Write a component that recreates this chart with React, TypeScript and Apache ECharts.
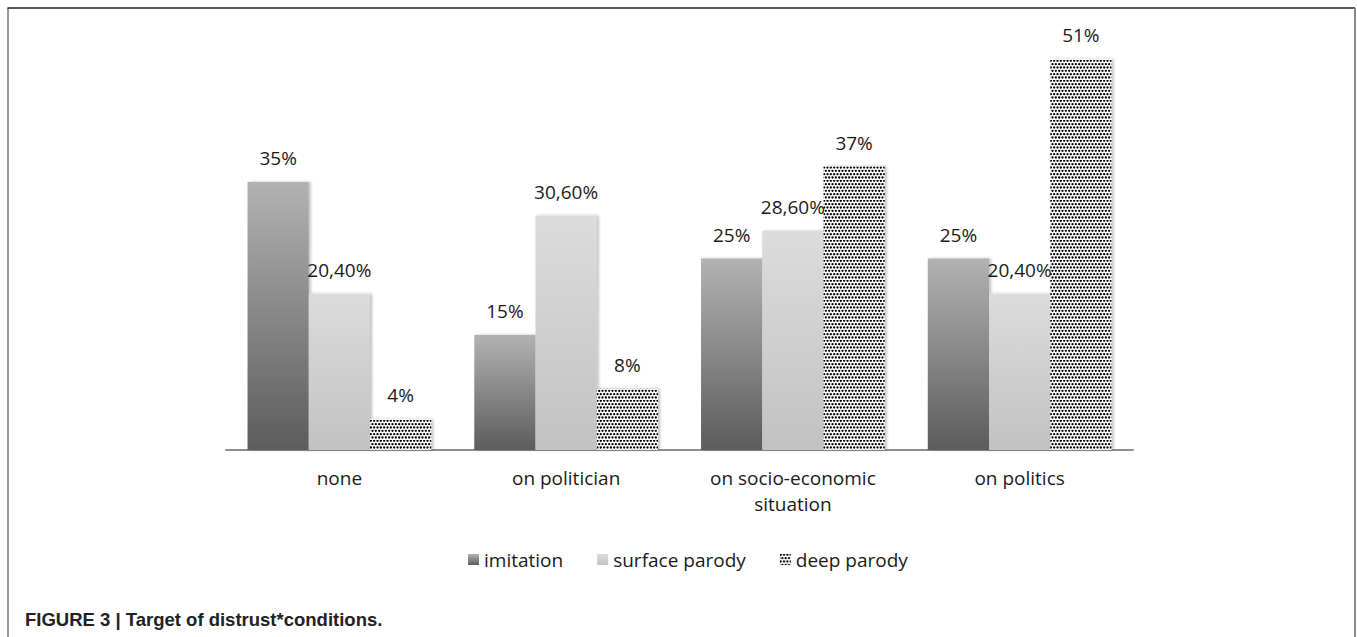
import React, { useEffect, useRef } from "react";
import * as echarts from "echarts";

const categories = ["none", "on politician", "on socio-economic\nsituation", "on politics"];
const seriesNames = ["imitation", "surface parody", "deep parody"];
const imitation = [35, 15, 25, 25];
const surfaceParody = [20.4, 30.6, 28.6, 20.4];
const deepParody = [4, 8, 37, 51];
const imitationLabels = ["35%", "15%", "25%", "25%"];
const surfaceLabels = ["20,40%", "30,60%", "28,60%", "20,40%"];
const deepLabels = ["4%", "8%", "37%", "51%"];
const caption = "FIGURE 3 | Target of distrust*conditions.";

const FONT = "'Open Sans', sans-serif";

function makeDots(): HTMLCanvasElement {
  const c = document.createElement("canvas");
  c.width = 20;
  c.height = 20;
  const ctx = c.getContext("2d")!;
  ctx.fillStyle = "#ffffff";
  ctx.fillRect(0, 0, 20, 20);
  ctx.fillStyle = "#000000";
  const step = 20 / 6;
  for (let r = 0; r < 6; r++) {
    for (let k = -1; k < 7; k++) {
      const x = k * step + (r % 2 ? step / 2 : 0) + step / 4;
      const y = r * step + step / 4;
      ctx.beginPath();
      ctx.arc(x, y, 1.15, 0, Math.PI * 2);
      ctx.fill();
    }
  }
  return c;
}

export default function App() {
  const ref = useRef<HTMLDivElement>(null);
  useEffect(() => {
    if (!ref.current) return;
    const chart = echarts.init(ref.current, null, { renderer: "svg" });
    const canvas = makeDots();
    const dotPattern: any = { image: canvas, repeat: "repeat", imageWidth: 20, imageHeight: 20 };
    const imitationColor = new echarts.graphic.LinearGradient(0, 0, 0, 1, [
      { offset: 0, color: "#b2b2b2" },
      { offset: 1, color: "#5c5c5c" },
    ]);
    const surfaceColor = new echarts.graphic.LinearGradient(0, 0, 0, 1, [
      { offset: 0, color: "#dcdcdc" },
      { offset: 1, color: "#c2c2c2" },
    ]);
    const labelStyle = (labels: string[]) => ({
      show: true,
      position: "top" as const,
      distance: 12,
      fontFamily: FONT,
      fontSize: 19,
      lineHeight: 24,
      color: "#1a1a1a",
      formatter: (p: any) => labels[p.dataIndex],
    });
    const shadow = {
      shadowBlur: 3,
      shadowColor: "rgba(0,0,0,0.25)",
      shadowOffsetX: 2,
      shadowOffsetY: 0,
    };
    chart.setOption({
      animation: false,
      backgroundColor: "#ffffff",
      grid: { left: 226, right: 224, top: 28.7, bottom: 187 },
      xAxis: {
        type: "category",
        data: categories,
        axisLine: { show: true, lineStyle: { color: "#8f8f8f", width: 2 } },
        axisTick: { show: false },
        axisLabel: {
          fontFamily: FONT,
          fontSize: 19,
          lineHeight: 26,
          color: "#1a1a1a",
          margin: 15,
          interval: 0,
        },
      },
      yAxis: {
        type: "value",
        min: 0,
        max: 55,
        show: false,
        splitLine: { show: false },
      },
      legend: {
        data: seriesNames,
        top: 545,
        left: 463,
        itemWidth: 11,
        itemHeight: 11,
        itemGap: 34,
        icon: "rect",
        textStyle: { fontFamily: FONT, fontSize: 19, color: "#1a1a1a" },
      },
      series: [
        {
          name: seriesNames[0],
          type: "bar",
          data: imitation,
          barGap: "0%",
          barCategoryGap: "19%",
          itemStyle: { color: imitationColor, ...shadow },
          label: labelStyle(imitationLabels),
        },
        {
          name: seriesNames[1],
          type: "bar",
          data: surfaceParody,
          barGap: "0%",
          barCategoryGap: "19%",
          itemStyle: { color: surfaceColor, ...shadow },
          label: labelStyle(surfaceLabels),
        },
        {
          name: seriesNames[2],
          type: "bar",
          data: deepParody,
          barGap: "0%",
          barCategoryGap: "19%",
          itemStyle: { color: dotPattern, ...shadow },
          label: labelStyle(deepLabels),
        },
      ],
      graphic: [
        { type: "line", shape: { x1: 7.5, y1: 8, x2: 1355, y2: 8 }, style: { stroke: "#222", lineWidth: 1.5 } },
        { type: "line", shape: { x1: 8, y1: 8, x2: 8, y2: 637 }, style: { stroke: "#333", lineWidth: 1 } },
        { type: "line", shape: { x1: 1355, y1: 8, x2: 1355, y2: 637 }, style: { stroke: "#888", lineWidth: 2 } },
        {
          type: "text",
          left: 25,
          top: 610,
          style: {
            text: caption,
            fontFamily: "'Liberation Sans', Arial, sans-serif",
            fontWeight: "bold",
            fontSize: 18.5,
            fill: "#222",
          },
        },
      ],
    });
    return () => chart.dispose();
  }, []);
  return (
    <div
      ref={ref}
      style={{ position: "absolute", left: 0, top: 0, width: 1357, height: 637 }}
    />
  );
}
